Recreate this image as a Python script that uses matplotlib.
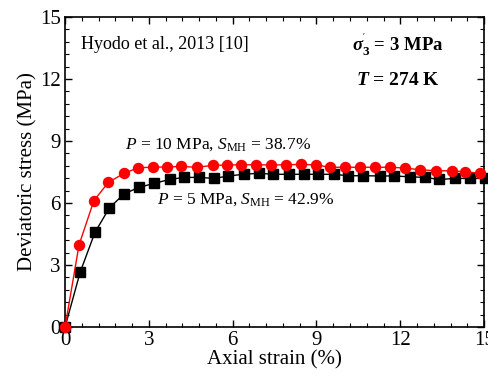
import matplotlib
matplotlib.use("Agg")
import matplotlib.pyplot as plt
from matplotlib.ticker import MultipleLocator

plt.rcParams['font.family'] = ['Liberation Serif', 'DejaVu Serif']
plt.rcParams['mathtext.fontset'] = 'custom'
plt.rcParams['mathtext.rm'] = 'Liberation Serif'
plt.rcParams['mathtext.it'] = 'Liberation Serif:italic'
plt.rcParams['mathtext.bf'] = 'Liberation Serif:bold'
plt.rcParams['mathtext.bfit'] = 'Liberation Serif:bold:italic'

strain_10 = [0, 0.5, 1.03, 1.55, 2.12, 2.6, 3.16, 3.64, 4.15, 4.71, 5.29, 5.79, 6.3, 6.84,
             7.37, 7.91, 8.45, 8.99, 9.49, 10.03, 10.54, 11.1, 11.64, 12.17, 12.71, 13.28,
             13.84, 14.32, 14.86]
stress_10 = [0, 3.97, 6.11, 7.0, 7.44, 7.7, 7.74, 7.74, 7.77, 7.73, 7.82, 7.84, 7.85, 7.85,
             7.84, 7.85, 7.87, 7.84, 7.73, 7.73, 7.73, 7.73, 7.73, 7.69, 7.61, 7.56,
             7.56, 7.51, 7.44]

strain_5 = [0, 0.54, 1.07, 1.59, 2.12, 2.65, 3.19, 3.74, 4.27, 4.8, 5.34, 5.85, 6.39, 6.93,
            7.46, 8.0, 8.54, 9.07, 9.61, 10.14, 10.68, 11.28, 11.76, 12.33, 12.87, 13.4,
            13.97, 14.5, 15.04]
stress_5 = [0, 2.65, 4.58, 5.77, 6.45, 6.76, 6.95, 7.14, 7.24, 7.24, 7.19, 7.31, 7.39, 7.44,
            7.39, 7.39, 7.39, 7.39, 7.39, 7.32, 7.32, 7.31, 7.31, 7.27, 7.24, 7.14,
            7.19, 7.19, 7.19]

xticks = [0, 3, 6, 9, 12, 15]
yticks = [0, 3, 6, 9, 12, 15]

fig = plt.figure(figsize=(4.89, 3.76), dpi=100)
ax = fig.add_axes([0.133, 0.130, 0.857, 0.825])

ax.plot(strain_5, stress_5, '-s', color='black', lw=1, markersize=6.8, clip_on=False, zorder=3)
ax.plot(strain_10, stress_10, '-o', color='red', lw=1, markersize=7.2, clip_on=False, zorder=4)

ax.set_xlim(0, 15)
ax.set_ylim(0, 15)
ax.set_xticks(xticks)
ax.set_yticks(yticks)
ax.xaxis.set_minor_locator(MultipleLocator(0.6))
ax.yaxis.set_minor_locator(MultipleLocator(0.6))
ax.tick_params(which='both', direction='in', top=True, right=True, labelsize=15, pad=3)
ax.tick_params(which='major', length=5, width=1)
ax.tick_params(which='minor', length=3, width=0.8)
for s in ax.spines.values():
    s.set_linewidth(1.2)

ax.set_xlabel('Axial strain (%)', fontsize=15, labelpad=0)
ax.set_ylabel('Deviatoric stress (MPa)', fontsize=15, labelpad=2)

ax.text(0.037, 0.91, 'Hyodo et al., 2013 [10]', transform=ax.transAxes, fontsize=13,
        ha='left', va='center')
ax.text(0.795, 0.91, r"$\boldsymbol{\sigma}^{'}_{\mathbf{3}}$ = 3 MPa",
        transform=ax.transAxes, fontsize=13.5, ha='center', va='center', fontweight='bold')
ax.text(0.795, 0.795, r"$\boldsymbol{T}$ = 274 K", transform=ax.transAxes, fontsize=14,
        ha='center', va='center', fontweight='bold')
ax.text(0.143, 0.59, r"$\mathit{P}$ = 10 MPa, $\mathit{S}_{\mathrm{MH}}$ = 38.7%",
        transform=ax.transAxes, fontsize=12.5, ha='left', va='center')
ax.text(0.22, 0.41, r"$\mathit{P}$ = 5 MPa, $\mathit{S}_{\mathrm{MH}}$ = 42.9%",
        transform=ax.transAxes, fontsize=12.5, ha='left', va='center')

fig.savefig('out.png', dpi=100)
